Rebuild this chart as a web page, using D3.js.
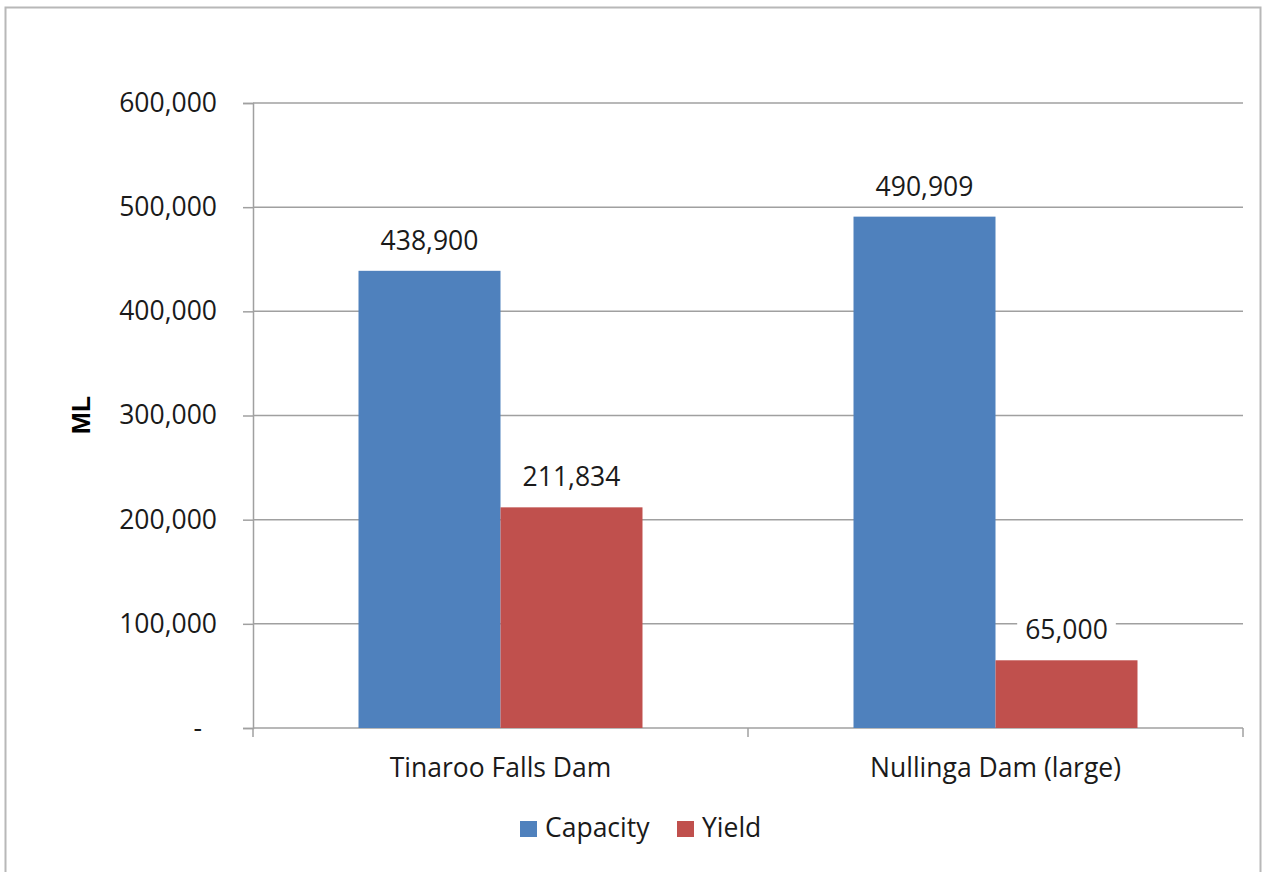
<!DOCTYPE html>
<html>
<head>
<meta charset="utf-8">
<script src="https://cdn.jsdelivr.net/npm/d3@7"></script>
<style>
  html, body { margin: 0; padding: 0; background: #fff; }
  svg { display: block; font-family: "Open Sans", sans-serif; }
</style>
</head>
<body>
<svg id="chart" width="1262" height="872"></svg>
<script>
const categories = ["Tinaroo Falls Dam", "Nullinga Dam (large)"];
const seriesNames = ["Capacity", "Yield"];
const capacity = [438900, 490909];
const yieldVals = [211834, 65000];
const yTicks = [0, 100000, 200000, 300000, 400000, 500000, 600000];
const colors = ["#4f81bd", "#c0504d"];

const svg = d3.select("#chart");
const plot = { left: 253, right: 1243, top: 103, bottom: 728 };
const FS = 26.5;
const textColor = "#1a1a1a";

// outer border
svg.append("rect")
  .attr("x", 5.5).attr("y", 7.5)
  .attr("width", 1255).attr("height", 880)
  .attr("fill", "#fff").attr("stroke", "#b8b8b8").attr("stroke-width", 2);

const x0 = d3.scaleBand().domain(categories).range([plot.left, plot.right]).paddingInner(0).paddingOuter(0);
const x1 = d3.scaleBand().domain(seriesNames).range([0, x0.bandwidth()]).paddingInner(0).paddingOuter(0.743);
const y = d3.scaleLinear().domain([0, 600000]).range([plot.bottom, plot.top]);

const fmt = d3.format(",");
const gridColor = "#a0a0a0";

// y axis with ticks
const yAxis = d3.axisLeft(y).tickValues(yTicks)
  .tickSize(10)
  .tickFormat(d => d === 0 ? "-" : fmt(d));
const gy = svg.append("g").attr("transform", `translate(${plot.left},0)`).call(yAxis);
gy.select(".domain").attr("stroke", gridColor).attr("stroke-width", 1.5);
gy.selectAll(".tick line").attr("stroke", gridColor).attr("stroke-width", 1.5);
gy.selectAll(".tick text")
  .attr("x", -36)
  .attr("font-family", "Open Sans, sans-serif")
  .attr("font-size", FS).attr("fill", textColor);
gy.selectAll(".tick text").filter(d => d === 0).attr("x", -51);

// horizontal gridlines
svg.append("g").selectAll("line").data(yTicks.filter(d => d > 0)).join("line")
  .attr("x1", plot.left).attr("x2", plot.right)
  .attr("y1", d => y(d)).attr("y2", d => y(d))
  .attr("stroke", gridColor).attr("stroke-width", 1.5);

// x axis
const xAxis = d3.axisBottom(x0).tickSize(0).tickFormat(d => d);
const gx = svg.append("g").attr("transform", `translate(0,${plot.bottom})`).call(xAxis);
gx.select(".domain").remove();
gx.selectAll(".tick text")
  .attr("dy", 0).attr("y", 49)
  .attr("font-family", "Open Sans, sans-serif")
  .attr("font-size", FS).attr("fill", textColor);
svg.append("line")
  .attr("x1", plot.left).attr("x2", plot.right)
  .attr("y1", plot.bottom).attr("y2", plot.bottom)
  .attr("stroke", gridColor).attr("stroke-width", 1.5);
const boundaries = [plot.left, plot.left + x0.bandwidth(), plot.right];
svg.append("g").selectAll("line").data(boundaries).join("line")
  .attr("x1", d => d).attr("x2", d => d)
  .attr("y1", plot.bottom).attr("y2", plot.bottom + 9)
  .attr("stroke", gridColor).attr("stroke-width", 1.5);

// bars
const data = categories.map((c, i) => ({ cat: c, values: [
  { s: seriesNames[0], v: capacity[i], c: colors[0] },
  { s: seriesNames[1], v: yieldVals[i], c: colors[1] }
]}));

const groups = svg.append("g").selectAll("g").data(data).join("g")
  .attr("transform", d => `translate(${x0(d.cat)},0)`);
groups.selectAll("rect").data(d => d.values).join("rect")
  .attr("x", d => x1(d.s))
  .attr("width", x1.bandwidth())
  .attr("y", d => y(d.v))
  .attr("height", d => y(0) - y(d.v))
  .attr("fill", d => d.c);

// data labels with white background
groups.each(function(d) {
  const g = d3.select(this);
  d.values.forEach(v => {
    const cx = x1(v.s) + x1.bandwidth() / 2;
    const ty = y(v.v) - 21;
    const t = g.append("text")
      .attr("x", cx).attr("y", ty)
      .attr("text-anchor", "middle")
      .attr("font-size", FS).attr("fill", textColor)
      .text(fmt(v.v));
    const bb = t.node().getBBox();
    g.insert("rect", "text")
      .attr("x", bb.x - 8).attr("y", bb.y - 2)
      .attr("width", bb.width + 16).attr("height", bb.height + 4)
      .attr("fill", "#fff");
  });
});

// y axis title
svg.append("text")
  .attr("transform", `translate(90,415) rotate(-90)`)
  .attr("text-anchor", "middle")
  .attr("font-family", "Liberation Sans, Arial, sans-serif")
  .attr("font-weight", "bold").attr("font-size", 26.5).attr("fill", "#000")
  .text("ML");

// legend
const legendX = [520, 677];
const lg = svg.append("g").selectAll("g").data(seriesNames).join("g")
  .attr("transform", (d, i) => `translate(${legendX[i]},821)`);
lg.append("rect").attr("width", 17).attr("height", 16).attr("fill", (d, i) => colors[i]);
lg.append("text").attr("x", 25).attr("y", 16)
  .attr("font-size", FS).attr("fill", textColor).text(d => d);
</script>
</body>
</html>
